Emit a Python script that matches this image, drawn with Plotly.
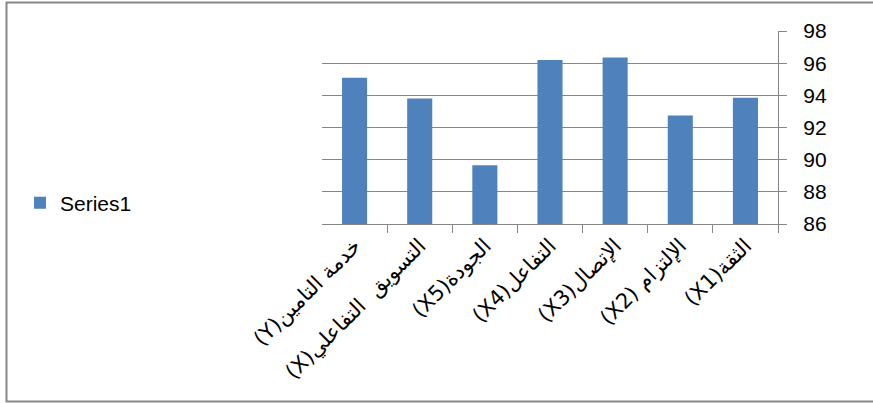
import plotly.graph_objects as go

categories = ["الثقة(X1)", "الإلتزام (X2)", "الإتصال(X3)", "التفاعل(X4)",
              "الجودة(X5)", "التسويق  التفاعلي(X)", "خدمة التامين(Y)"]
values = [93.85, 92.75, 96.35, 96.2, 89.65, 93.8, 95.1]
series_name = "Series1"
y_ticks = [86, 88, 90, 92, 94, 96, 98]

W, H = 873, 403
L, R, T, B = 322, 95, 31, 179
pw, ph = W - L - R, H - T - B

def px(x):
    return (x - L) / pw

def py(y):
    return (H - B - y) / ph

labels = ["\u202B" + c + "\u202C" for c in categories]

fig = go.Figure()
fig.add_trace(go.Bar(x=labels, y=values, name=series_name,
                     marker=dict(color="#4F81BD", line=dict(width=0)),
                     showlegend=True))

FONT = "Liberation Sans, DejaVu Sans, sans-serif"
GRID = "#878787"

fig.update_layout(
    width=W, height=H,
    margin=dict(l=L, r=R, t=T, b=B),
    paper_bgcolor="white", plot_bgcolor="white",
    bargap=0.615,
    font=dict(family=FONT, size=20, color="black"),
    showlegend=True,
    legend=dict(x=px(20), y=py(203), xanchor="left", yanchor="middle",
                font=dict(size=21, family=FONT), bgcolor="rgba(0,0,0,0)",
                itemwidth=30),
    xaxis=dict(autorange="reversed", type="category", tickson="boundaries",
               ticks="outside", ticklen=8, tickcolor=GRID, tickwidth=1.3,
               showline=True, linecolor=GRID, linewidth=1.3,
               tickangle=-45, tickfont=dict(size=21, family="DejaVu Sans, sans-serif"),
               showgrid=False),
    yaxis=dict(range=[86, 98], tickvals=y_ticks, side="right",
               ticks="outside", ticklen=8, tickcolor=GRID, tickwidth=1.3,
               showline=True, linecolor=GRID, linewidth=1.3,
               showgrid=True, gridcolor=GRID, gridwidth=1.3,
               zeroline=False, tickfont=dict(size=21, family=FONT),
               ticklabelstandoff=12),
)

fig.add_shape(type="rect", xref="paper", yref="paper", layer="below",
              x0=px(6.5), x1=px(880), y0=py(401.5), y1=py(2.5),
              line=dict(color="#878787", width=2), fillcolor="rgba(0,0,0,0)")

fig.write_html("out.html")
